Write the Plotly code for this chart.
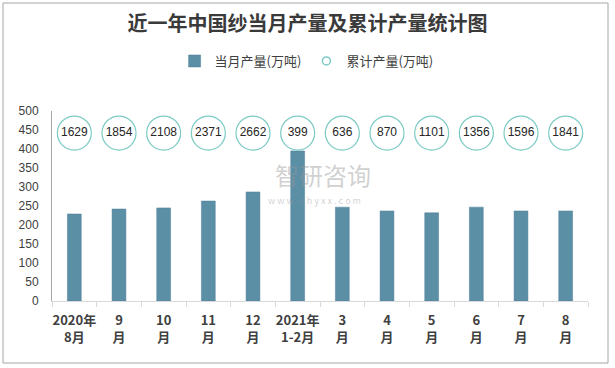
import plotly.graph_objects as go

categories = ["2020年8月", "9月", "10月", "11月", "12月", "2021年1-2月",
              "3月", "4月", "5月", "6月", "7月", "8月"]
tick_line1 = ["2020年", "9", "10", "11", "12", "2021年", "3", "4", "5", "6", "7", "8"]
tick_line2 = ["8月", "月", "月", "月", "月", "1-2月", "月", "月", "月", "月", "月", "月"]
monthly = [229, 242, 245, 263, 287, 395, 247, 237, 232, 247, 237, 237]
cumulative = [1629, 1854, 2108, 2371, 2662, 399, 636, 870, 1101, 1356, 1596, 1841]
y_ticks = [0, 50, 100, 150, 200, 250, 300, 350, 400, 450, 500]

CIRCLE_Y = 442
FONT = "Noto Sans CJK SC"

fig = go.Figure()
fig.add_trace(go.Bar(
    x=categories, y=monthly, name="当月产量(万吨)",
    marker=dict(color="#5b8fa6", line=dict(color="#4f7f96", width=0.5)),
    width=0.31,
))
fig.add_trace(go.Scatter(
    x=categories, y=[CIRCLE_Y] * len(categories), mode="markers+text",
    text=[str(v) for v in cumulative], textposition="middle center",
    textfont=dict(size=12, color="#262626", family="Liberation Sans, Arial"),
    marker=dict(symbol="circle", size=34, color="white",
                line=dict(color="#7ccbc4", width=1.2)),
    showlegend=False, hoverinfo="skip",
))
# legend entry for the cumulative circles; lives on the second-line label axis
fig.add_trace(go.Scatter(
    x=[None], y=[None], mode="markers", name="累计产量(万吨)", xaxis="x2",
    marker=dict(symbol="circle", size=8, color="white",
                line=dict(color="#7ccbc4", width=1.5)),
))

fig.update_layout(
    width=615, height=368,
    margin=dict(l=52, r=27, t=111, b=67, autoexpand=False),
    paper_bgcolor="white", plot_bgcolor="white",
    font=dict(family=FONT, color="#404040"),
    title=dict(text="<b>近一年中国纱当月产量及累计产量统计图</b>",
               x=0.5, xanchor="center", y=0.935, yanchor="middle",
               font=dict(size=20, color="#3a3a3a", family=FONT)),
    legend=dict(orientation="h", x=0.475, xanchor="center", y=1.263, yanchor="middle",
                font=dict(size=13, color="#404040"), itemwidth=30,
                traceorder="normal"),
    bargap=0.69,
    showlegend=True,
    shapes=[dict(type="rect", xref="paper", yref="paper",
                 x0=-49/536, x1=(608-52)/536, y0=-(363-301)/190, y1=(301-3)/190,
                 line=dict(color="#a6a6a6", width=1), layer="below")],
    annotations=[
        dict(text="智研咨询", x=0.506, y=0.665, xref="paper", yref="paper",
             showarrow=False, font=dict(size=24, color="rgba(150,150,150,0.45)")),
        dict(text="w w w . c h y x x . c o m", x=0.49, y=0.53, xref="paper", yref="paper",
             showarrow=False, font=dict(size=9, color="rgba(150,150,150,0.45)")),
    ],
    xaxis=dict(
        type="category", range=[-0.5, len(categories) - 0.5],
        categoryorder="array", categoryarray=categories,
        showline=True, linecolor="#d9d9d9", linewidth=1,
        ticks="outside", tickson="boundaries", ticklen=5, tickcolor="#d9d9d9",
        tickangle=0, automargin=False, ticklabelstandoff=7,
        tickvals=categories, ticktext=["<b>" + t + "</b>" for t in tick_line1],
        tickfont=dict(size=13, color="#404040", family=FONT),
        showgrid=False,
    ),
    xaxis2=dict(
        type="category", overlaying="x", side="bottom", anchor="y",
        range=[-0.5, len(categories) - 0.5], categoryorder="array", categoryarray=categories,
        tickvals=categories, ticktext=["<b>" + t + "</b>" for t in tick_line2],
        tickangle=0, automargin=False, ticklabelstandoff=27,
        ticks="", showline=False, showgrid=False, zeroline=False,
        tickfont=dict(size=13, color="#404040", family=FONT),
    ),
)
fig.update_yaxes(
    range=[0, 500], tickvals=y_ticks, showline=True, linecolor="#a6a6a6", linewidth=1,
    showgrid=False, zeroline=False, ticks="", automargin=False, ticklabelstandoff=10,
    tickfont=dict(size=12, color="#404040", family="Liberation Sans, Arial"),
)

fig.write_html("out.html", config={"displayModeBar": False},
               post_script="document.body.style.margin='0';")
